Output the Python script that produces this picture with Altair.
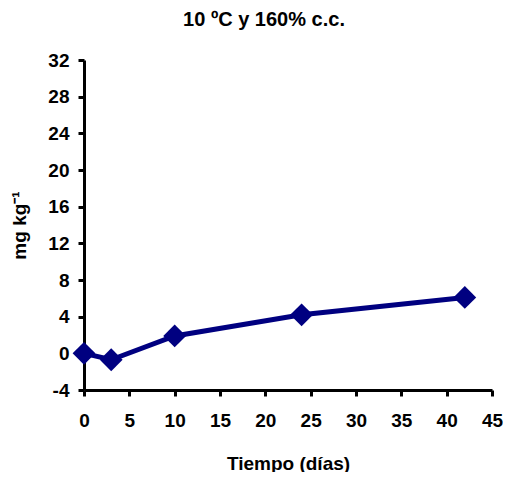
import altair as alt
import pandas as pd

dias = [0, 3, 10, 24, 42]
valores = [0.0, -0.7, 1.9, 4.2, 6.1]
x_ticks = [0, 5, 10, 15, 20, 25, 30, 35, 40, 45]
y_ticks = [-4, 0, 4, 8, 12, 16, 20, 24, 28, 32]

df = pd.DataFrame({"dias": dias, "valor": valores})

FONT = "Liberation Sans"
NAVY = "#000080"

common = dict(grid=False, domainColor="black", domainWidth=3, tickColor="black",
              tickWidth=3, tickSize=6, labelFont=FONT, labelFontSize=19,
              labelFontWeight="bold", labelColor="black", labelFlush=False,
              labelOverlap=False, labelExpr="'' + datum.value",
              titleFont=FONT, titleFontSize=19, titleFontWeight="bold",
              titleColor="black")

x = alt.X("dias:Q", scale=alt.Scale(domain=[0, 45], nice=False, zero=False),
          axis=alt.Axis(values=x_ticks, title="Tiempo (días)", labelPadding=15,
                        titlePadding=24, **common))
y = alt.Y("valor:Q", scale=alt.Scale(domain=[-4, 32], nice=False, zero=False),
          axis=alt.Axis(values=y_ticks, title="mg kg⁻¹", labelPadding=9,
                        titlePadding=18, **common))

line = alt.Chart(df).mark_line(color=NAVY, strokeWidth=5).encode(x=x, y=y)
pts = alt.Chart(df).mark_point(shape="diamond", filled=True, size=520,
                               color=NAVY, opacity=1).encode(x=x, y=y)

chart = (line + pts).properties(
    width=408, height=330,
    background="white",
    title=alt.Title("10 ºC y 160% c.c.", font=FONT, fontSize=20, fontWeight="bold",
                    color="black", offset=21, dx=-24, anchor="middle"),
    autosize=alt.AutoSizeParams(type="none"),
    padding={"left": 76, "top": 52, "right": 11, "bottom": 82},
).configure_view(strokeWidth=0, stroke="transparent")

chart.save("out.html", embed_options={"renderer": "svg", "actions": False})
